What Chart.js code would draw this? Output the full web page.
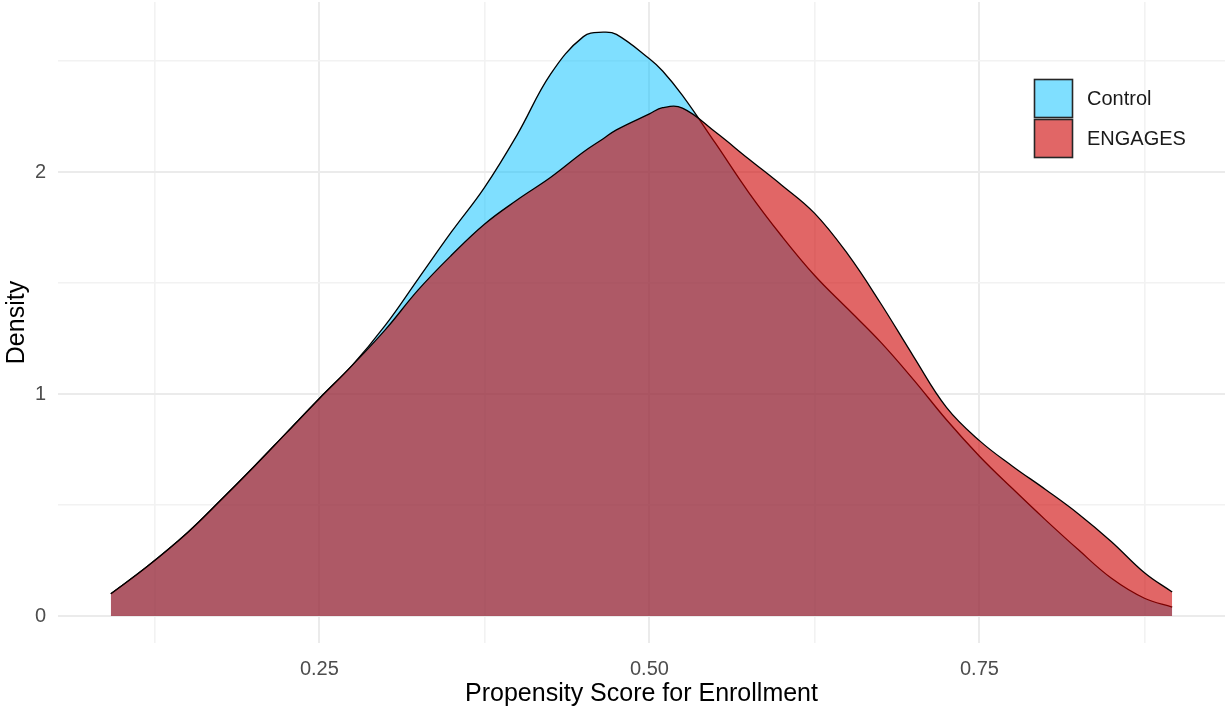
<!DOCTYPE html>
<html>
<head>
<meta charset="utf-8">
<script src="https://cdn.jsdelivr.net/npm/chart.js@4.4.1/dist/chart.umd.min.js"></script>
<style>
  html, body { margin: 0; padding: 0; background: #ffffff; }
  #wrap { width: 1225px; height: 713px; position: relative; }
</style>
</head>
<body>
<div id="wrap"><canvas id="c"></canvas></div>
<script>
// ---- Data ----
const seriesNames = ['Control', 'ENGAGES'];
const scoreValues = [0.092, 0.12, 0.15, 0.175, 0.2, 0.225, 0.25, 0.275, 0.3, 0.325, 0.35, 0.375, 0.4, 0.425, 0.45, 0.465, 0.475, 0.5, 0.51, 0.525, 0.55, 0.575, 0.6, 0.625, 0.65, 0.675, 0.7, 0.725, 0.75, 0.775, 0.8, 0.825, 0.85, 0.875, 0.896];
const controlDensity = [0.10, 0.225, 0.375, 0.52, 0.67, 0.825, 0.98, 1.13, 1.31, 1.52, 1.73, 1.93, 2.17, 2.44, 2.61, 2.63, 2.62, 2.51, 2.455, 2.345, 2.13, 1.91, 1.713, 1.535, 1.385, 1.235, 1.065, 0.884, 0.72, 0.574, 0.433, 0.298, 0.17, 0.08, 0.04];
const engagesDensity = [0.10, 0.225, 0.375, 0.52, 0.67, 0.825, 0.98, 1.13, 1.29, 1.47, 1.625, 1.765, 1.875, 1.975, 2.09, 2.15, 2.19, 2.262, 2.29, 2.288, 2.18, 2.06, 1.942, 1.815, 1.632, 1.41, 1.17, 0.94, 0.79, 0.675, 0.57, 0.46, 0.335, 0.195, 0.108];
const xTickValues = [0.125, 0.25, 0.375, 0.5, 0.625, 0.75, 0.875];
const xTickLabels = {0.25: '0.25', 0.5: '0.50', 0.75: '0.75'};
const yTickValues = [0, 0.5, 1, 1.5, 2, 2.5];
const yTickLabels = {0: '0', 1: '1', 2: '2'};

const toPoints = (xs, ys) => xs.map((x, i) => ({x: x, y: ys[i]}));

const FONT = '"Liberation Sans", Arial, sans-serif';
const fills = ['rgba(0,191,255,0.5)', 'rgba(205,0,0,0.6)'];

const legendPlugin = {
  id: 'insideLegend',
  afterDraw(chart) {
    const ctx = chart.ctx;
    const ds = chart.data.datasets;
    const x0 = 1034.5, y0 = 79.5, size = 38, step = 40;
    ctx.save();
    ds.forEach((d, i) => {
      const y = y0 + i * step;
      ctx.fillStyle = d.backgroundColor;
      ctx.fillRect(x0, y, size, size);
      ctx.strokeStyle = '#262626';
      ctx.lineWidth = 1.6;
      ctx.strokeRect(x0, y, size, size);
      ctx.fillStyle = '#1a1a1a';
      ctx.font = '20px ' + FONT;
      ctx.textAlign = 'left';
      ctx.textBaseline = 'middle';
      ctx.fillText(d.label, 1087, y + size / 2 + 1);
    });
    ctx.restore();
  }
};

const isMajorX = v => Object.prototype.hasOwnProperty.call(xTickLabels, v);
const isMajorY = v => Object.prototype.hasOwnProperty.call(yTickLabels, v);

new Chart(document.getElementById('c'), {
  type: 'line',
  data: {
    datasets: [
      {
        label: seriesNames[0],
        data: toPoints(scoreValues, controlDensity),
        backgroundColor: fills[0],
        borderColor: '#000000',
        borderWidth: 1.3,
        fill: 'origin',
        pointRadius: 0,
        tension: 0.4,
        order: 2
      },
      {
        label: seriesNames[1],
        data: toPoints(scoreValues, engagesDensity),
        backgroundColor: fills[1],
        borderColor: '#000000',
        borderWidth: 1.3,
        fill: 'origin',
        pointRadius: 0,
        tension: 0.4,
        order: 1
      }
    ]
  },
  options: {
    responsive: true,
    maintainAspectRatio: false,
    animation: false,
    layout: { padding: { top: 2, right: 0, left: 0, bottom: 0 } },
    plugins: {
      legend: { display: false },
      tooltip: { enabled: false }
    },
    scales: {
      x: {
        type: 'linear',
        min: 0.052,
        max: 0.936,
        border: { display: false },
        afterBuildTicks: s => { s.ticks = xTickValues.map(v => ({value: v})); },
        afterFit: s => { s.height = 70; s.paddingLeft = 0; s.paddingRight = 0; },
        grid: {
          drawTicks: false,
          color: ctx => (ctx.tick && isMajorX(ctx.tick.value)) ? '#ebebeb' : '#f2f2f2',
          lineWidth: ctx => (ctx.tick && isMajorX(ctx.tick.value)) ? 2 : 1.6
        },
        ticks: {
          autoSkip: false,
          maxRotation: 0,
          padding: 14,
          color: '#4d4d4d',
          font: { family: FONT, size: 20 },
          callback: v => xTickLabels[v] || ''
        },
        title: {
          display: true,
          text: 'Propensity Score for Enrollment',
          color: '#000000',
          font: { family: FONT, size: 25 },
          padding: { top: 0, bottom: 4 }
        }
      },
      y: {
        type: 'linear',
        min: -0.1216,
        max: 2.766,
        border: { display: false },
        afterBuildTicks: s => { s.ticks = yTickValues.map(v => ({value: v})); },
        afterFit: s => { s.width = 58; s.paddingTop = 0; s.paddingBottom = 0; },
        grid: {
          drawTicks: false,
          color: ctx => (ctx.tick && isMajorY(ctx.tick.value)) ? '#ebebeb' : '#f2f2f2',
          lineWidth: ctx => (ctx.tick && isMajorY(ctx.tick.value)) ? 2 : 1.6
        },
        ticks: {
          autoSkip: false,
          padding: 12,
          color: '#4d4d4d',
          font: { family: FONT, size: 20 },
          callback: v => yTickLabels[v] || ''
        },
        title: {
          display: true,
          text: 'Density',
          color: '#000000',
          font: { family: FONT, size: 25 },
          padding: { top: 2, bottom: 0 }
        }
      }
    }
  },
  plugins: [legendPlugin]
});
</script>
</body>
</html>
